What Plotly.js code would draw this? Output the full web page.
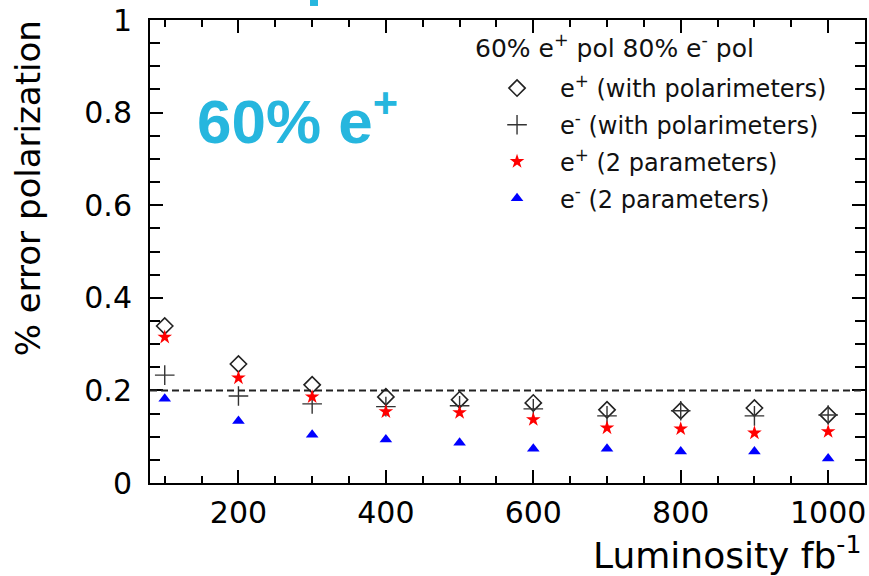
<!DOCTYPE html>
<html>
<head>
<meta charset="utf-8">
<script src="https://cdn.plot.ly/plotly-3.0.1.min.js"></script>
<style>html,body{margin:0;padding:0;background:#fff;}#chart{width:869px;height:576px;}</style>
</head>
<body>
<div id="chart"></div>
<script>
// Data
const luminosity = [100, 200, 300, 400, 500, 600, 700, 800, 900, 1000];
const ePlusPolarimeters  = [0.339, 0.257, 0.212, 0.186, 0.180, 0.173, 0.158, 0.156, 0.162, 0.147];
const eMinusPolarimeters = [0.233, 0.188, 0.171, 0.165, 0.167, 0.160, 0.145, 0.156, 0.145, 0.147];
const ePlusTwoParams     = [0.315, 0.227, 0.186, 0.154, 0.152, 0.137, 0.119, 0.117, 0.108, 0.111];
const eMinusTwoParams    = [0.182, 0.134, 0.104, 0.094, 0.087, 0.074, 0.074, 0.068, 0.068, 0.053];
const seriesNames = [
  'e<sup>+</sup> (with polarimeters)',
  'e<sup>-</sup> (with polarimeters)',
  'e<sup>+</sup> (2 parameters)',
  'e<sup>-</sup> (2 parameters)'
];
const threshold = 0.2;
const legendTitle = '60% e<sup>+</sup> pol 80% e<sup>-</sup> pol';
const xTitle = 'Luminosity fb<sup>-1</sup>';
const yTitle = '% error polarization';
const bigLabel = '60% e<sup>+</sup>';

const FONT = 'DejaVu Sans, sans-serif';

const traces = [
  {x: luminosity, y: ePlusPolarimeters, name: seriesNames[0], legendgroup: 'a',
   mode: 'markers', type: 'scatter',
   marker: {symbol: 'diamond-open', size: 12.5, color: '#222', line: {width: 1.6, color: '#222'}}},
  {x: luminosity, y: eMinusPolarimeters, name: seriesNames[1], legendgroup: 'b',
   mode: 'markers', type: 'scatter',
   marker: {symbol: 'cross-thin-open', size: 14, color: '#333', line: {width: 1.4, color: '#333'}}},
  {x: luminosity, y: ePlusTwoParams, name: seriesNames[2], legendgroup: 'c',
   mode: 'markers', type: 'scatter',
   marker: {symbol: 'star', size: 11, color: '#ff0000', line: {width: 0}}},
  {x: luminosity, y: eMinusTwoParams, name: seriesNames[3], legendgroup: 'd',
   mode: 'markers', type: 'scatter',
   marker: {symbol: 'triangle-up', size: 11, color: '#0000ff', line: {width: 0}}}
];

const axisCommon = {
  showgrid: false, zeroline: false,
  showline: true, linecolor: '#000', linewidth: 2, mirror: 'ticks',
  ticks: 'inside', ticklen: 13, tickwidth: 2, tickcolor: '#000',
  tickfont: {family: FONT, size: 30, color: '#000'}
};

const layout = {
  width: 869, height: 576,
  margin: {l: 150, r: 4, t: 20, b: 92.5},
  paper_bgcolor: '#fff', plot_bgcolor: '#fff',
  showlegend: true,
  xaxis: Object.assign({}, axisCommon, {
    range: [80, 1050], tick0: 0, dtick: 200, ticklabelstandoff: 2,
    minor: {dtick: 50, ticks: 'inside', ticklen: 7, tickwidth: 2, tickcolor: '#000'}
  }),
  yaxis: Object.assign({}, axisCommon, {
    range: [0, 1], tick0: 0, dtick: 0.2, ticklabelstandoff: 10,
    minor: {dtick: 0.05, ticks: 'inside', ticklen: 10, tickwidth: 2, tickcolor: '#000'}
  }),
  legend: {
    x: 0.4532, y: 0.9007, xanchor: 'left', yanchor: 'top',
    bgcolor: 'rgba(0,0,0,0)', borderwidth: 0,
    traceorder: 'grouped', tracegroupgap: 2.5, itemwidth: 76,
    font: {family: FONT, size: 24, color: '#111'}
  },
  shapes: [
    {type: 'line', xref: 'paper', yref: 'y', x0: 0, x1: 1, y0: threshold, y1: threshold,
     line: {color: '#222', width: 2, dash: '7px,4px'}},
    {type: 'rect', xref: 'paper', yref: 'paper', x0: 0.2238, x1: 0.235, y0: 1.0303, y1: 1.05,
     fillcolor: '#26b6de', line: {width: 0}}
  ],
  annotations: [
    {text: legendTitle, xref: 'paper', yref: 'paper', x: 0.4517, y: 0.9417,
     xanchor: 'left', yanchor: 'middle', showarrow: false,
     font: {family: FONT, size: 25, color: '#111'}},
    {text: yTitle, xref: 'paper', yref: 'paper', x: -0.1706, y: 0.6365,
     xanchor: 'center', yanchor: 'middle', textangle: -90, showarrow: false,
     font: {family: FONT, size: 34, color: '#000'}},
    {text: xTitle, xref: 'paper', yref: 'paper', x: 0.997, y: -0.152,
     xanchor: 'right', yanchor: 'middle', showarrow: false,
     font: {family: FONT, size: 36, color: '#000'}},
    {text: bigLabel, xref: 'paper', yref: 'paper', x: 0.063, y: 0.79,
     xanchor: 'left', yanchor: 'middle', showarrow: false,
     font: {family: 'Liberation Sans, Arial, sans-serif', size: 62, color: '#26b6de', weight: 'bold'}}
  ]
};

Plotly.newPlot('chart', traces, layout, {displayModeBar: false, staticPlot: true});
</script>
</body>
</html>
